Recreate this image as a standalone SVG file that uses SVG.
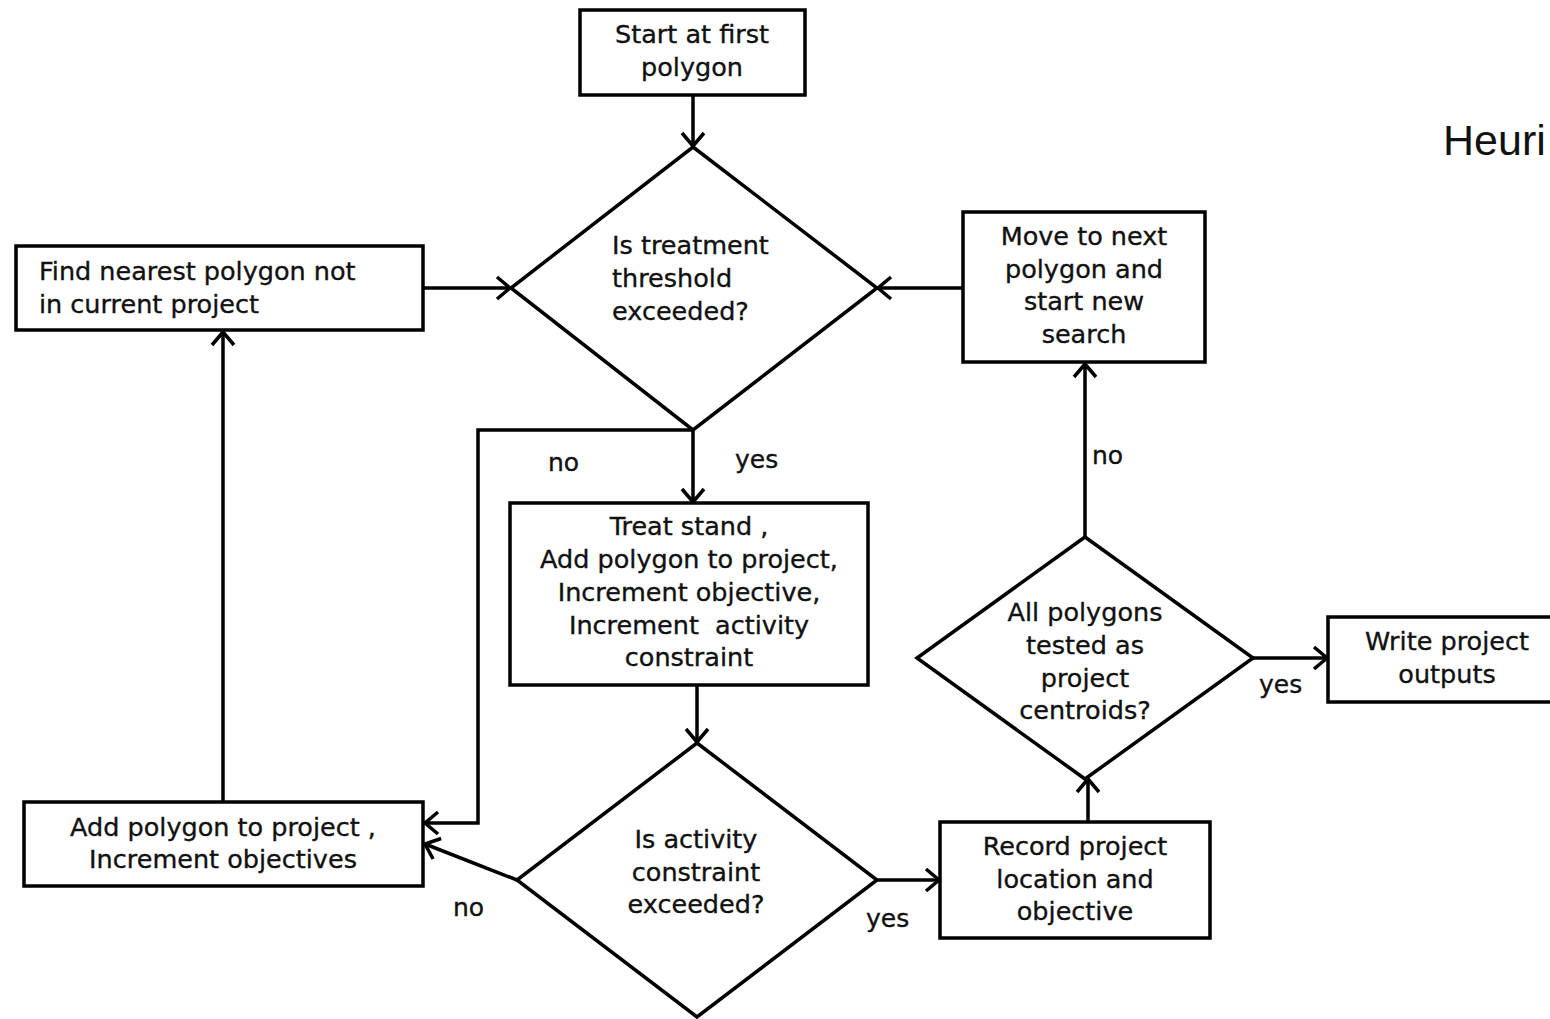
<svg xmlns="http://www.w3.org/2000/svg" width="1550" height="1019" viewBox="0 0 1550 1019">
<style>
.box{fill:#fff;stroke:#000;stroke-width:3.5}
.dia{fill:#fff;stroke:#000;stroke-width:3.5}
.t{font-family:"DejaVu Sans","Open Sans",sans-serif;font-size:25.5px;fill:#111;stroke:#111;stroke-width:0.35}
.c{text-anchor:middle}
.lbl{font-family:"DejaVu Sans","Open Sans",sans-serif;font-size:25px;fill:#111;stroke:#111;stroke-width:0.35}
.con{fill:none;stroke:#000;stroke-width:3.5}
</style>
<defs>
<marker id="arr" viewBox="-20 -15 30 30" refX="0" refY="0" markerWidth="30" markerHeight="30" markerUnits="userSpaceOnUse" orient="auto">
<path d="M-13,-11 L0,0 L-13,11" fill="none" stroke="#000" stroke-width="3.5"/>
</marker>
</defs>
<rect width="1550" height="1019" fill="#fff"/>

<g id="connectors">
<line class="con" x1="693" y1="95" x2="693" y2="146" marker-end="url(#arr)"/>
<line class="con" x1="423" y1="288" x2="510" y2="288" marker-end="url(#arr)"/>
<line class="con" x1="963" y1="288" x2="878" y2="288" marker-end="url(#arr)"/>
<polyline class="con" points="693,430 478,430 478,823 425,823" marker-end="url(#arr)"/>
<line class="con" x1="693" y1="430" x2="693" y2="502" marker-end="url(#arr)"/>
<line class="con" x1="697" y1="685" x2="697" y2="742" marker-end="url(#arr)"/>
<line class="con" x1="517" y1="880" x2="425" y2="844" marker-end="url(#arr)"/>
<line class="con" x1="223" y1="802" x2="223" y2="332" marker-end="url(#arr)"/>
<line class="con" x1="877" y1="880" x2="939" y2="880" marker-end="url(#arr)"/>
<line class="con" x1="1088" y1="822" x2="1088" y2="779" marker-end="url(#arr)"/>
<line class="con" x1="1085" y1="537" x2="1085" y2="364" marker-end="url(#arr)"/>
<line class="con" x1="1253" y1="658" x2="1327" y2="658" marker-end="url(#arr)"/>
<text class="lbl" x="548" y="471">no</text>
<text class="lbl" x="735" y="468">yes</text>
<text class="lbl" x="453" y="916">no</text>
<text class="lbl" x="866" y="927">yes</text>
<text class="lbl" x="1092" y="464">no</text>
<text class="lbl" x="1259" y="693">yes</text>
</g>

<g id="start">
<rect class="box" x="580" y="10" width="225" height="85"/>
<text class="t c" x="692" y="43">Start at first</text>
<text class="t c" x="692" y="76">polygon</text>
</g>

<g id="threshold">
<polygon class="dia" points="693,147 877,288 693,430 511,288"/>
<text class="t" x="612" y="254">Is treatment</text>
<text class="t" x="612" y="287">threshold</text>
<text class="t" x="612" y="320">exceeded?</text>
</g>

<g id="find">
<rect class="box" x="16" y="246" width="407" height="84"/>
<text class="t" x="39" y="280">Find nearest polygon not</text>
<text class="t" x="39" y="313">in current project</text>
</g>

<g id="move">
<rect class="box" x="963" y="212" width="242" height="150"/>
<text class="t c" x="1084" y="245">Move to next</text>
<text class="t c" x="1084" y="278">polygon and</text>
<text class="t c" x="1084" y="310">start new</text>
<text class="t c" x="1084" y="343">search</text>
</g>

<g id="treat">
<rect class="box" x="510" y="503" width="358" height="182"/>
<text class="t c" x="689" y="535" xml:space="preserve">Treat stand ,</text>
<text class="t c" x="689" y="568">Add polygon to project,</text>
<text class="t c" x="689" y="601">Increment objective,</text>
<text class="t c" x="689" y="634" xml:space="preserve">Increment  activity</text>
<text class="t c" x="689" y="666">constraint</text>
</g>

<g id="activity">
<polygon class="dia" points="697,743 877,880 697,1017 517,880"/>
<text class="t c" x="696" y="848">Is activity</text>
<text class="t c" x="696" y="881">constraint</text>
<text class="t c" x="696" y="913">exceeded?</text>
</g>

<g id="add">
<rect class="box" x="24" y="802" width="399" height="84"/>
<text class="t c" x="223" y="836" xml:space="preserve">Add polygon to project ,</text>
<text class="t c" x="223" y="868">Increment objectives</text>
</g>

<g id="record">
<rect class="box" x="940" y="822" width="270" height="116"/>
<text class="t c" x="1075" y="855">Record project</text>
<text class="t c" x="1075" y="888">location and</text>
<text class="t c" x="1075" y="920">objective</text>
</g>

<g id="alltested">
<polygon class="dia" points="1085,537 1253,658 1085,779 917,658"/>
<text class="t c" x="1085" y="621">All polygons</text>
<text class="t c" x="1085" y="654">tested as</text>
<text class="t c" x="1085" y="687">project</text>
<text class="t c" x="1085" y="719">centroids?</text>
</g>

<g id="write">
<rect class="box" x="1328" y="617" width="240" height="85"/>
<text class="t c" x="1447" y="650">Write project</text>
<text class="t c" x="1447" y="683">outputs</text>
</g>

<g id="title">
<text x="1443" y="155" style="font-family:'Liberation Sans',Arial,sans-serif;font-size:43px;fill:#111">Heuri</text>
</g>
</svg>
